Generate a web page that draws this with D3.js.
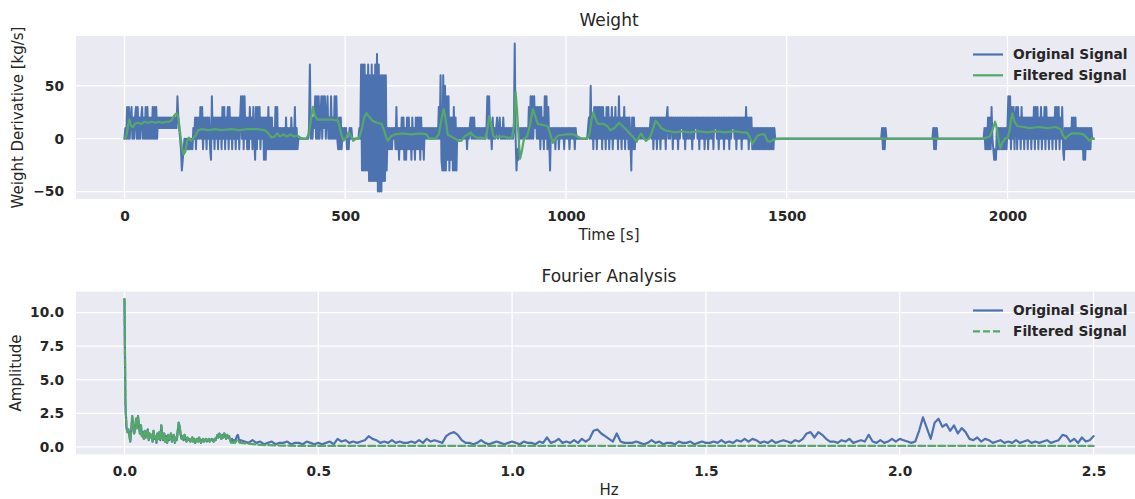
<!DOCTYPE html>
<html>
<head>
<meta charset="utf-8">
<script src="https://cdn.jsdelivr.net/npm/d3@7"></script>
<style>
  body { margin: 0; background: #fff; }
  text { font-family: "DejaVu Sans", sans-serif; fill: #262626; }
</style>
</head>
<body>
<svg id="chart" width="1135" height="499"></svg>
<script>
// ---------- data ----------

// weight derivative [kg/s], one value every 2 s from t = 0 to t = 1480 (20 values per row = 40 s)
const weightStep = 2;
const weightA = [
  0,10,0,30,0,30,0,20,30,0,20,0,20,30,0,30,0,20,0,20,
  30,0,20,0,30,0,30,0,20,0,20,0,30,0,30,0,30,0,20,10,
  20,10,20,10,20,10,20,10,20,10,20,10,20,10,20,10,20,10,20,10,
  40,20,10,0,-10,-30,-20,-10,0,-10,0,-10,0,-10,0,-10,0,-10,10,0,
  20,-10,20,0,20,0,30,0,30,-10,20,0,20,-10,20,0,20,-10,-20,40,
  0,20,-10,20,0,20,-10,20,0,20,-10,30,0,30,-10,20,0,30,-10,30,
  0,20,-10,20,0,20,-10,20,0,20,-10,20,40,0,40,-10,40,0,20,-10,
  20,-10,30,0,20,-10,30,0,-20,30,-10,30,0,30,-10,20,0,20,-20,20,
  -20,20,-10,30,-10,20,-10,20,-10,10,-10,30,-10,30,-10,10,-10,10,-10,10,
  -10,10,-10,20,-10,10,-10,10,-10,20,-10,10,-10,30,-10,10,-10,0,0,0,
  0,0,0,0,0,0,0,0,0,10,70,0,20,0,20,10,40,0,40,0,
  40,0,20,40,0,40,10,40,0,20,40,0,20,0,40,0,20,0,40,0,
  40,0,-10,20,-10,20,-10,10,0,10,0,10,-10,0,-10,10,0,10,0,0,
  0,0,0,0,0,0,10,0,70,-30,70,-30,70,-30,60,-30,70,-40,60,-40,
  70,-40,60,-40,70,-40,80,-50,70,-50,60,-50,60,-40,60,-40,60,-30,10,-10,
  10,-10,10,-10,10,0,10,-10,30,-10,10,-20,10,-10,20,-10,20,-20,10,-20,
  20,-10,20,-10,10,-20,20,-10,10,-20,20,-10,20,-10,20,-20,20,-10,10,-20,
  10,0,10,0,10,0,10,0,10,0,10,0,10,0,10,0,30,0,60,-20,
  -30,60,-30,50,-30,40,-20,40,-30,20,-20,20,-30,30,-30,20,-30,10,0,10,
  0,10,0,10,0,10,0,10,-10,10,0,10,20,0,20,0,20,0,10,0,
  10,0,10,0,10,0,10,0,10,0,10,40,0,40,0,10,-10,20,0,10,
  0,10,20,0,10,20,0,10,0,20,0,10,0,10,0,10,0,10,0,10,
  0,10,90,0,-30,-10,-20,0,10,0,10,0,10,0,10,0,10,0,30,0,
  40,0,40,0,40,10,30,0,30,0,30,-10,30,0,20,-10,40,0,40,-10,
  30,0,-30,10,0,10,0,10,-10,10,0,10,-10,10,0,10,0,10,-10,10,
  0,10,0,10,-10,10,0,10,0,10,-10,10,0,0,0,0,0,0,0,0,
  0,0,0,0,0,10,20,0,50,0,20,-10,30,0,30,-10,30,0,30,0,
  30,-10,30,0,20,-10,30,0,30,-10,20,0,30,-10,20,0,30,0,20,-10,
  40,0,20,-10,20,0,30,-10,20,0,20,-10,20,0,-30,20,-10,20,-10,10,
  0,10,0,10,0,10,0,10,0,10,0,10,0,10,0,10,20,0,20,-10,
  20,0,20,-10,20,0,20,-10,20,0,20,0,20,-10,20,30,0,20,0,20,
  20,-10,20,0,20,0,20,-10,20,0,20,10,20,0,20,-10,20,0,20,0,
  20,0,20,-10,20,0,20,10,20,0,20,-10,20,0,20,0,20,-10,20,0,
  20,-10,20,0,20,0,20,-10,20,10,20,0,20,-10,20,0,20,0,20,-10,
  20,0,20,0,20,-10,20,0,20,10,20,0,20,-10,20,0,20,0,20,-10,
  20,0,20,0,30,0,20,-10,20,0,20,-10,10,-10,10,-10,10,-10,10,-10,
  10,-10,10,-10,10,-10,10,-10,10,-10,10,-10,10,-10,10,-10,10,0,0,0,
  0
];
// short blips in the quiet stretch [t, value]
const weightBlips = [
  [1714,0],[1716,10],[1718,-10],[1720,10],[1722,-10],[1724,10],[1726,0],
  [1830,0],[1832,10],[1834,-10],[1836,10],[1838,-10],[1840,10],[1842,0]
];
// last active stretch, one value every 2 s from t = 1944
const weightBStart = 1944;
const weightB = [
  0,0,10,-10,10,-10,20,-10,20,-10,30,0,-10,-20,-10,-20,10,-10,10,-10,
  10,-10,10,-10,10,-10,10,-10,10,40,0,40,-10,30,0,30,-10,20,30,-10,
  30,0,20,-10,30,0,20,-10,20,0,20,-10,20,0,20,-10,20,0,30,-10,
  30,0,30,-10,20,0,30,-10,20,0,30,-10,30,0,20,-10,20,0,20,-10,
  20,0,30,-10,30,0,30,-10,20,0,30,-10,-20,10,-10,10,-10,10,-10,10,
  -10,20,-10,20,-10,20,-10,10,-10,10,-10,10,-10,10,-20,10,-20,10,-10,10,
  -10,10,-10,10,0,0,0
];
// filtered signal [t, value]
const weightFiltered = [
  [0,0],[4,2],[8,12],[11,18],[15,12],[19,11],[24,14],[30,15],[38,14],[46,16],[54,15],[62,16],[70,15],[78,16],
  [86,15],[94,16],[102,16],[108,18],[113,22],[118,24],[122,20],[126,6],[130,-8],[134,-15],[138,-12],[142,-2],
  [146,1],[150,-2],[155,0],[161,3],[167,8],[175,9],[190,8],[205,9],[220,8],[240,9],[260,8],[280,9],[300,9],
  [318,8],[326,5],[333,1],[340,2],[346,5],[352,2],[360,4],[368,2],[376,4],[384,2],[392,3],[398,1],[404,0],
  [412,0],[418,5],[423,20],[427,30],[431,22],[437,18],[450,18],[470,18],[484,17],[490,6],[496,-2],[502,1],
  [508,6],[514,2],[518,-2],[524,0],[532,1],[538,10],[543,20],[548,24],[554,21],[562,17],[572,15],[582,14],
  [588,8],[593,1],[597,-2],[603,2],[612,4],[630,5],[650,4],[670,5],[684,4],[690,0],[704,0],[712,4],[718,18],
  [723,28],[727,20],[732,4],[740,2],[748,0],[756,-2],[763,-2],[770,2],[778,4],[784,6],[790,3],[798,1],
  [808,1],[816,0],[821,6],[826,21],[830,16],[835,3],[840,1],[848,2],[860,2],[868,1],[878,1],[882,12],
  [886,44],[889,28],[893,0],[896,-19],[900,-12],[905,0],[912,2],[918,12],[925,28],[930,22],[936,14],
  [946,13],[958,12],[964,5],[970,-4],[976,0],[982,3],[1000,4],[1018,4],[1026,2],[1036,0],[1048,0],
  [1053,4],[1058,18],[1062,25],[1066,20],[1072,14],[1084,14],[1094,12],[1100,8],[1110,10],[1120,15],
  [1128,12],[1138,8],[1146,4],[1152,2],[1160,-3],[1166,2],[1170,5],[1176,1],[1181,-2],[1190,1],[1197,9],
  [1203,17],[1209,14],[1216,10],[1224,8],[1234,7],[1248,6],[1262,7],[1280,6],[1300,7],[1320,6],[1340,7],
  [1360,6],[1380,7],[1400,6],[1410,6],[1416,2],[1422,-5],[1428,-1],[1434,3],[1442,4],[1450,4],[1456,-2],
  [1462,-3],[1470,-1],[1480,0],
  [1944,0],[1952,1],[1960,2],[1966,8],[1972,16],[1976,10],[1980,-2],[1984,-9],[1988,-4],[1994,0],
  [2000,1],[2004,6],[2008,18],[2011,24],[2016,16],[2022,12],[2036,11],[2050,10],[2070,11],[2090,10],
  [2110,11],[2120,9],[2126,3],[2131,0],[2138,3],[2146,5],[2160,5],[2172,4],[2180,1],[2186,-2],[2192,0],[2196,0]
];

// fourier amplitude, original signal: fine steps up to 0.3 Hz, then 0.01 Hz steps
const ampLowStep = 0.0025;
const ampLow = [
  11.0,3.2,1.5,1.1,1.3,0.9,0.4,1.2,2.3,1.6,
  1.0,1.3,2.1,1.4,2.3,1.5,1.0,1.6,0.8,1.1,
  0.6,1.2,0.7,0.9,1.3,0.5,1.0,0.7,0.9,0.4,
  1.2,0.6,0.8,0.3,1.0,0.6,1.1,0.5,1.6,0.9,
  0.5,1.0,0.4,0.8,0.3,0.9,0.5,0.7,1.0,0.4,
  0.6,0.9,0.3,0.7,0.5,1.2,1.8,1.5,0.9,0.6,
  0.8,0.5,0.9,0.6,0.4,0.7,0.5,0.6,0.4,0.5,
  0.7,0.4,0.6,0.3,0.5,0.6,0.4,0.7,0.5,0.3,
  0.5,0.6,0.4,0.5,0.6,0.4,0.5,0.6,0.4,0.5,
  0.6,0.5,0.4,0.6,0.5,0.7,0.9,0.7,1.0,0.8,
  0.6,0.9,0.7,1.0,0.8,0.6,0.9,0.7,0.8,0.5,
  0.4,0.6,0.4,0.5,0.4,0.6,0.8,0.9,0.6,0.4,
  0.5
];
const ampHighStart = 0.31;
const ampHighStep = 0.01;
const ampHigh = [
  0.4,0.3,0.5,0.3,0.4,0.2,0.3,0.4,0.2,0.3,
  0.3,0.4,0.2,0.3,0.3,0.2,0.4,0.3,0.2,0.3,
  0.2,0.3,0.4,0.2,0.6,0.4,0.5,0.3,0.4,0.3,
  0.4,0.5,0.8,0.6,0.5,0.3,0.4,0.3,0.5,0.3,
  0.4,0.3,0.3,0.4,0.3,0.5,0.3,0.6,0.4,0.5,
  0.4,0.3,0.8,1.0,1.1,0.9,0.5,0.3,0.3,0.2,
  0.3,0.5,0.3,0.2,0.3,0.4,0.3,0.2,0.3,0.4,
  0.3,0.2,0.4,0.3,0.3,0.2,0.4,0.3,0.7,0.3,
  0.4,0.6,0.3,0.4,0.3,0.5,0.3,0.6,0.4,0.6,
  1.2,1.3,1.0,0.8,0.6,0.4,1.0,0.4,0.3,0.3,
  0.3,0.4,0.3,0.2,0.3,0.5,0.3,0.4,0.2,0.3,
  0.3,0.2,0.4,0.3,0.3,0.4,0.2,0.3,0.4,0.3,
  0.3,0.4,0.3,0.5,0.3,0.4,0.3,0.5,0.4,0.6,
  0.4,0.6,0.5,0.3,0.4,0.3,0.5,0.3,0.4,0.5,
  0.4,0.3,0.5,0.4,0.6,1.0,1.1,0.7,1.1,0.9,
  0.6,0.4,0.4,0.3,0.5,0.4,0.6,0.3,0.4,0.5,
  0.4,0.9,0.4,0.3,0.5,0.3,0.4,0.6,0.4,0.6,
  0.5,0.4,0.3,0.4,1.2,2.2,1.4,0.6,1.8,2.1,
  1.5,1.7,1.2,1.6,1.0,1.4,1.1,0.6,0.5,0.7,
  0.4,0.6,0.5,0.3,0.4,0.5,0.3,0.4,0.3,0.5,
  0.3,0.4,0.5,0.3,0.4,0.3,0.4,0.5,0.3,0.4,
  0.5,0.9,0.8,0.4,0.6,0.3,0.7,0.4,0.5,0.8
];
// fourier amplitude, filtered signal
const filtLow = [
  11.0,3.2,1.5,1.1,1.3,0.9,0.4,1.2,2.3,1.6,
  1.0,1.3,2.1,1.4,2.3,1.5,1.0,1.6,0.8,1.1,
  0.6,1.2,0.7,0.9,1.3,0.5,1.0,0.7,0.9,0.4,
  1.2,0.6,0.8,0.3,1.0,0.6,1.1,0.5,1.6,0.9,
  0.5,1.0,0.4,0.8,0.3,0.9,0.5,0.7,1.0,0.4,
  0.6,0.9,0.3,0.7,0.5,1.2,1.8,1.5,0.9,0.6,
  0.8,0.5,0.9,0.6,0.4,0.7,0.5,0.6,0.4,0.5,
  0.7,0.4,0.6,0.3,0.5,0.6,0.4,0.7,0.5,0.3,
  0.5,0.6,0.4,0.5,0.6,0.4,0.5,0.6,0.4,0.5,
  0.6,0.5,0.4,0.6,0.5,0.7,0.9,0.7,1.0,0.8,
  0.6,0.9,0.7,1.0,0.8,0.6,0.9,0.7,0.8,0.5,
  0.3,0.4,0.3,0.4,0.3,0.4,0.5,0.5,0.4,0.3,
  0.3
];
const filtHighStart = 0.35;
const filtHighStep = 0.05;
const filtHigh = [
  0.15,0.10,0.08,0.07,0.07,0.08,0.07,0.07,0.08,0.07,
  0.07,0.08,0.07,0.07,0.07,0.08,0.07,0.07,0.08,0.07,
  0.07,0.07,0.08,0.07,0.07,0.08,0.07,0.07,0.07,0.08,
  0.07,0.07,0.08,0.07,0.07,0.07,0.08,0.07,0.07,0.08,
  0.07,0.07,0.08,0.07
];

// ticks
const timeTicks = [0, 500, 1000, 1500, 2000];
const weightTicks = [-50, 0, 50];
const hzTicks = [0, 0.5, 1.0, 1.5, 2.0, 2.5];
const ampTicks = [0, 2.5, 5, 7.5, 10];

// ---------- build point lists ----------
const weightOrig = [];
weightA.forEach((v, i) => weightOrig.push([i * weightStep, v]));
weightBlips.forEach(p => weightOrig.push(p));
weightB.forEach((v, i) => weightOrig.push([weightBStart + i * weightStep, v]));

const fourierOrig = [];
ampLow.forEach((v, i) => fourierOrig.push([i * ampLowStep, v]));
ampHigh.forEach((v, i) => fourierOrig.push([ampHighStart + i * ampHighStep, v]));

const fourierFilt = [];
filtLow.forEach((v, i) => fourierFilt.push([i * ampLowStep, v]));
filtHigh.forEach((v, i) => fourierFilt.push([filtHighStart + i * filtHighStep, v]));

// ---------- drawing ----------
const svg = d3.select("#chart");
const blue = "#4C72B0", green = "#55A868";
const plotLeft = 76, plotRight = 1142;

function drawPanel(cfg) {
  const x = d3.scaleLinear().domain(cfg.xDomain).range([plotLeft, plotRight]);
  const y = d3.scaleLinear().domain(cfg.yDomain).range([cfg.bottom, cfg.top]);
  const g = svg.append("g");

  g.append("rect")
    .attr("x", plotLeft).attr("y", cfg.top)
    .attr("width", plotRight - plotLeft).attr("height", cfg.bottom - cfg.top)
    .attr("fill", "#EAEAF2");

  // grid
  g.selectAll(".vgrid").data(cfg.xTicks).enter().append("line")
    .attr("x1", d => x(d)).attr("x2", d => x(d))
    .attr("y1", cfg.top).attr("y2", cfg.bottom)
    .attr("stroke", "#fff").attr("stroke-width", 1.3);
  g.selectAll(".hgrid").data(cfg.yTicks).enter().append("line")
    .attr("x1", plotLeft).attr("x2", plotRight)
    .attr("y1", d => y(d)).attr("y2", d => y(d))
    .attr("stroke", "#fff").attr("stroke-width", 1.3);

  // axes (labels only)
  const xa = g.append("g")
    .attr("transform", `translate(0,${cfg.bottom})`)
    .call(d3.axisBottom(x).tickValues(cfg.xTicks).tickSize(0).tickPadding(12.4).tickFormat(cfg.xFormat));
  const ya = g.append("g")
    .attr("transform", `translate(${plotLeft},0)`)
    .call(d3.axisLeft(y).tickValues(cfg.yTicks).tickSize(0).tickPadding(12).tickFormat(cfg.yFormat));
  [xa, ya].forEach(a => {
    a.select(".domain").remove();
    a.attr("font-family", null).attr("font-size", null);
    a.selectAll("text")
      .attr("fill", "#262626")
      .style("font-size", "13.75px")
      .style("font-weight", "bold");
  });

  // title + labels
  g.append("text")
    .attr("x", (plotLeft + plotRight) / 2).attr("y", cfg.top - 10)
    .attr("text-anchor", "middle").style("font-size", "17px")
    .text(cfg.title);
  g.append("text")
    .attr("x", (plotLeft + plotRight) / 2).attr("y", cfg.bottom + 41)
    .attr("text-anchor", "middle").style("font-size", "15px")
    .text(cfg.xLabel);
  g.append("text")
    .attr("transform", `translate(${cfg.yLabelX},${(cfg.top + cfg.bottom) / 2}) rotate(-90)`)
    .attr("text-anchor", "middle").style("font-size", "15px")
    .text(cfg.yLabel);

  // data lines
  const clipId = "clip" + Math.round(cfg.top);
  svg.append("clipPath").attr("id", clipId).append("rect")
    .attr("x", plotLeft).attr("y", cfg.top)
    .attr("width", plotRight - plotLeft).attr("height", cfg.bottom - cfg.top);
  const line = d3.line().x(d => x(d[0])).y(d => y(d[1]));
  const lines = g.append("g").attr("clip-path", `url(#${clipId})`);
  cfg.series.forEach(s => {
    lines.append("path")
      .datum(s.data)
      .attr("d", line)
      .attr("fill", "none")
      .attr("stroke", s.color)
      .attr("stroke-width", s.width)
      .attr("stroke-linejoin", "round")
      .attr("stroke-linecap", "round")
      .attr("stroke-dasharray", s.dash || null);
  });

  // legend
  const leg = g.append("g");
  cfg.series.forEach((s, i) => {
    const ly = cfg.legendY + i * 20.8;
    leg.append("line")
      .attr("x1", 973).attr("x2", 1003).attr("y1", ly).attr("y2", ly)
      .attr("stroke", s.color).attr("stroke-width", 2.2)
      .attr("stroke-dasharray", s.dash || null);
    leg.append("text")
      .attr("x", 1013).attr("y", ly).attr("dy", "0.36em")
      .style("font-size", "13.75px").style("font-weight", "bold")
      .text(s.name);
  });
}

drawPanel({
  top: 36, bottom: 199,
  xDomain: [-109.75, 2304.75], yDomain: [-57, 97],
  xTicks: timeTicks, yTicks: weightTicks,
  xFormat: d3.format("d"), yFormat: d3.format("d"),
  title: "Weight", xLabel: "Time [s]", yLabel: "Weight Derivative [kg/s]", yLabelX: 23,
  legendY: 54.5,
  series: [
    { name: "Original Signal", data: weightOrig, color: blue, width: 2.0 },
    { name: "Filtered Signal", data: weightFiltered, color: green, width: 2.2 }
  ]
});

drawPanel({
  top: 291.7, bottom: 454.3,
  xDomain: [-0.125, 2.625], yDomain: [-0.55, 11.55],
  xTicks: hzTicks, yTicks: ampTicks,
  xFormat: d3.format(".1f"), yFormat: d3.format(".1f"),
  title: "Fourier Analysis", xLabel: "Hz", yLabel: "Amplitude", yLabelX: 21,
  legendY: 310.5,
  series: [
    { name: "Original Signal", data: fourierOrig, color: blue, width: 2.2 },
    { name: "Filtered Signal", data: fourierFilt, color: green, width: 2.2, dash: "7,3" }
  ]
});
</script>
</body>
</html>
